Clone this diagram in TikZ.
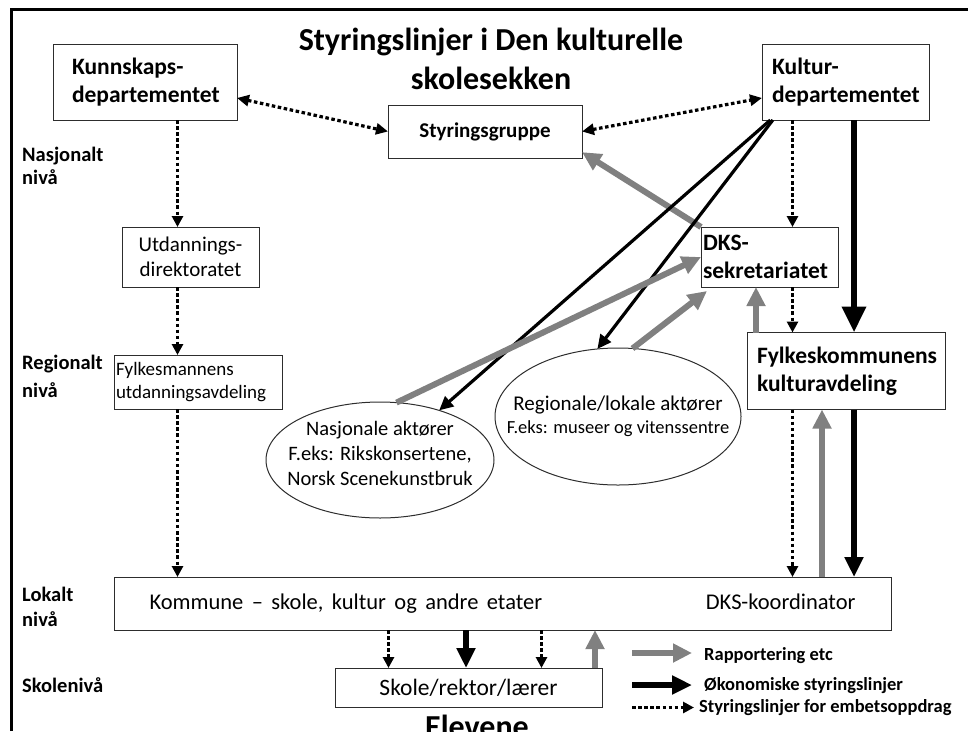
\documentclass[tikz,border=0pt]{standalone}
\usepackage{fontspec}
\setmainfont{Carlito}
\usetikzlibrary{arrows.meta,calc,shapes.geometric}
\definecolor{repgray}{RGB}{128,128,128}
\definecolor{boxline}{RGB}{45,45,45}
\newcommand\myfs[2]{\fontsize{#1pt}{#2pt}\selectfont}
\hyphenpenalty=10000
\exhyphenpenalty=10000
\begin{document}
\begin{tikzpicture}[x=1pt,y=-1pt,
  box/.style={draw=boxline,line width=1pt,rectangle,inner ysep=0pt,outer sep=0pt},
  ell/.style={draw=boxline,line width=1pt,ellipse,inner sep=0pt,outer sep=0pt},
  lbl/.style={font=\bfseries\myfs{20.5}{23},align=left,inner sep=0pt},
  dotln/.style={line width=3.2pt,dash pattern=on 3.5pt off 2.6pt,-{Triangle[length=11pt,width=11pt]}},
  dotboth/.style={line width=3.2pt,dash pattern=on 3.5pt off 2.6pt,{Triangle[length=12pt,width=11pt]}-{Triangle[length=12pt,width=11pt]}},
  econthin/.style={line width=3.2pt,-{Triangle[length=14pt,width=13pt]}},
  econthick/.style={line width=6.5pt,-{Triangle[length=26pt,width=23pt]}},
  econ/.style={line width=5.5pt,-{Triangle[length=20pt,width=18pt]}},
  rep/.style={draw=repgray,line width=6pt,-{Triangle[length=19pt,width=18pt]}},
  legtxt/.style={font=\bfseries\myfs{18.5}{22},anchor=base west,inner sep=0pt}]
\useasboundingbox (0,0) rectangle (968,731);

% frame
\draw[line width=2.7pt] (11.3,731) |- (968,9.7);

% title
\node[font=\bfseries\myfs{32}{39},align=center,inner sep=0pt] (title) at (491,59) {Styringslinjer i Den kulturelle\\skolesekken};

% level labels
\node[lbl,anchor=west] (nas) at (22,166.3) {Nasjonalt\\nivå};
\node[lbl,anchor=west,font=\bfseries\myfs{20.5}{28}] (reg) at (22,376.8) {Regionalt\\nivå};
\node[lbl,anchor=west,font=\bfseries\myfs{20.5}{25}] (lok) at (22,607) {Lokalt\\nivå};
\node[lbl,anchor=base west] (skn) at (22,692) {Skolenivå};

% boxes
\node[box,font=\bfseries\myfs{23.5}{28},align=left,text width=146pt,inner xsep=19pt,minimum height=76pt] (kd) at (145,82) {Kunnskaps-\\departementet};
\node[box,font=\bfseries\myfs{23.5}{28},align=left,text width=147pt,inner xsep=10pt,minimum height=76pt] (kul) at (845.5,82) {Kultur-\\departementet};
\node[box,font=\bfseries\myfs{21}{25},align=center,minimum width=194pt,minimum height=53pt] (sg) at (485,131.5) {Styringsgruppe};
\node[box,font=\myfs{21}{25},align=center,minimum width=137pt,minimum height=60pt] (utd) at (190.5,257) {Utdannings-\\direktoratet};
\node[box,font=\myfs{19}{23},align=left,text width=164pt,inner xsep=2pt,minimum height=54pt] (fm) at (198,382) {Fylkesmannens\\utdanningsavdeling};
\node[box,font=\bfseries\myfs{23.5}{28},align=left,text width=133pt,inner xsep=2pt,minimum height=60pt] (dks) at (769.5,257) {DKS-\\sekretariatet};
\node[box,font=\bfseries\myfs{23.5}{28},align=left,text width=178pt,inner xsep=10pt,minimum height=77pt] (fk) at (846,371) {Fylkeskommunens\\kulturavdeling};
\node[box,font=\myfs{22.5}{28},align=left,text width=706pt,inner xsep=35.5pt,minimum height=53pt] (kom) at (502.5,603.5) {\spaceskip=8.4pt Kommune – skole, kultur og andre etater\hfill DKS-koordinator};
\node[box,font=\myfs{23.5}{28},align=center,minimum width=267pt,minimum height=39pt] (sk) at (468.5,687.5) {Skole/rektor/lærer};
\node[font=\bfseries\myfs{32}{39},anchor=base,inner sep=0pt] (elev) at (477,737) {Elevene};

% ellipses
\node[ell,minimum width=228pt,minimum height=116pt] (na) at (380,460) {};
\node[font=\myfs{20.5}{25},align=center,inner sep=0pt] (natxt) at ($(na.center)+(0,-7)$) {Nasjonale aktører\\F.eks: Rikskonsertene,\\Norsk Scenekunstbruk};
\node[ell,minimum width=246pt,minimum height=137pt] (rl) at (618,416.5) {};
\node[font=\myfs{21}{23},align=center,inner sep=0pt] (rltxt) at (rl.center) {Regionale/lokale aktører\\\myfs{18.5}{23}F.eks: museer og vitenssentre};

% x positions of vertical connectors
\coordinate (xA) at (177.5,0);
\coordinate (xB) at (792.5,0);
\coordinate (xC) at (854,0);
\coordinate (xD) at (756,0);
\coordinate (xE) at (822,0);
\coordinate (x1) at (388.5,0);
\coordinate (x2) at (466,0);
\coordinate (x3) at (541.5,0);
\coordinate (x4) at (595,0);

% Kunnskapsdepartementet line
\draw[dotln] (kd.south -| xA) -- (utd.north -| xA);
\draw[dotln] (utd.south -| xA) -- (fm.north -| xA);
\draw[dotln] (fm.south -| xA) -- (kom.north -| xA);
\draw[dotboth] ($(kd.north east)!0.71!(kd.south east)$) -- (sg.west);
\draw[dotboth] (sg.east) -- ($(kul.north west)!0.71!(kul.south west)$);

% Kulturdepartementet lines
\draw[rep] (dks.north west) -- ($(sg.north east)!0.89!(sg.south east)$);
\draw[dotln] (kul.south -| xB) -- (dks.north -| xB);
\draw[dotln] (dks.south -| xB) -- (fk.north -| xB);
\draw[dotln] (fk.south -| xB) -- (kom.north -| xB);
\draw[econthick] (kul.south -| xC) -- (fk.north -| xC);
\draw[econ] (fk.south -| xC) -- (kom.north -| xC);
\draw[rep] (fk.north -| xD) -- (dks.south -| xD);
\draw[rep] (kom.north -| xE) -- (fk.south -| xE);
\draw[econthin] ($(kul.south west)!0.05!(kul.south east)$) -- (na.40);
\draw[econthin] ($(kul.south west)!0.065!(kul.south east)$) -- (rl.107);
\draw[rep] (na.74) -- (dks.west);
\draw[rep] (rl.78) -- ($(dks.south west)+(6,4)$);

% kommune to skole
\draw[dotln] (kom.south -| x1) -- (sk.north -| x1);
\draw[econ] (kom.south -| x2) -- (sk.north -| x2);
\draw[dotln] (kom.south -| x3) -- (sk.north -| x3);
\draw[rep] (sk.north -| x4) -- (kom.south -| x4);

% legend
\coordinate (l1a) at (632,653);
\coordinate (l1b) at (692,653);
\coordinate (l2a) at (632,685);
\coordinate (l2b) at (692,685);
\coordinate (l3a) at (632,707.5);
\coordinate (l3b) at (694,707.5);
\draw[rep] (l1a) -- (l1b);
\draw[econ] (l2a) -- (l2b);
\draw[dotln] (l3a) -- (l3b);
\node[legtxt] (lt1) at (704,660) {Rapportering etc};
\node[legtxt] (lt2) at (704,690) {Økonomiske styringslinjer};
\node[legtxt] (lt3) at (699,712.5) {Styringslinjer for embetsoppdrag};
\end{tikzpicture}
\end{document}
